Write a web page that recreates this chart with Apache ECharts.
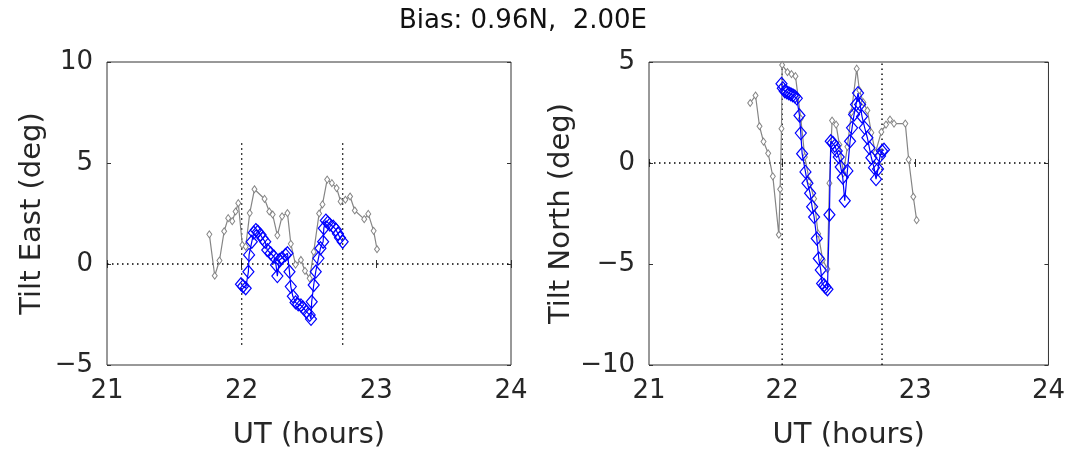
<!DOCTYPE html>
<html><head><meta charset="utf-8">
<script src="https://cdn.jsdelivr.net/npm/echarts@6/dist/echarts.min.js"></script>
<style>html,body{margin:0;padding:0;background:#fff}#c{width:1068px;height:455px}</style>
</head><body><div id="c"></div>
<script>
// ---- axes ----
const xMin = 21, xMax = 24, xStep = 1;
const eastMin = -5, eastMax = 10;
const northMin = -10, northMax = 5;
const yStep = 5;
const titleText = 'Bias: 0.96N,  2.00E';
const xName = 'UT (hours)';
const eastName = 'Tilt East (deg)';
const northName = 'Tilt North (deg)';

// ---- guide lines ----
const vLineX = [22, 22.75];
const vSpanEast = [-4, 6];
const vSpanNorth = [-10, 5];
const hLineY = 0;

// ---- Tilt East: raw (gray) ----
const tEastGray = [21.76,21.80,21.835,21.87,21.90,21.93,21.955,21.975,22.005,22.03,22.06,22.095,22.17,22.205,22.23,22.265,22.30,22.34,22.365,22.40,22.44,22.47,22.505,22.535,22.575,22.60,22.635,22.67,22.705,22.735,22.77,22.805,22.84,22.91,22.94,22.98,23.005];
const yEastGray = [1.47,-0.58,0.17,1.62,2.27,2.12,2.6,3.01,0.94,0.86,2.52,3.7,3.22,2.6,2.45,1.42,2.36,2.52,1.0,-0.03,0.2,-0.34,-0.71,0.6,2.5,2.95,4.18,4.0,3.76,3.1,3.18,3.34,2.65,2.22,2.48,1.64,0.73];
// ---- Tilt East: selected (blue) ----
const tEastBlue = [21.995,22.01,22.03,22.05,22.055,22.075,22.09,22.105,22.12,22.14,22.155,22.175,22.19,22.215,22.24,22.255,22.265,22.28,22.30,22.325,22.34,22.355,22.365,22.38,22.40,22.42,22.44,22.455,22.48,22.505,22.515,22.52,22.535,22.55,22.57,22.585,22.605,22.61,22.625,22.64,22.655,22.68,22.70,22.715,22.73,22.75];
const yEastBlue = [-1.0,-1.1,-1.2,-0.38,0.45,1.1,1.55,1.68,1.6,1.45,1.27,1.1,0.69,0.53,0.36,-0.05,-0.6,0.2,0.3,0.45,0.53,-0.38,-1.12,-1.6,-1.9,-2.0,-2.05,-2.15,-2.36,-2.52,-2.72,-1.87,-1.04,-0.38,0.28,0.78,1.1,1.77,2.15,2.05,1.95,1.85,1.7,1.5,1.3,1.1];

// ---- Tilt North: raw (gray) ----
const tNorthGray = [21.76,21.80,21.83,21.86,21.895,21.93,21.975,21.985,21.995,22.0,22.04,22.07,22.10,22.14,22.17,22.205,22.24,22.27,22.305,22.34,22.355,22.375,22.405,22.43,22.46,22.49,22.52,22.56,22.58,22.61,22.64,22.67,22.70,22.745,22.78,22.81,22.84,22.925,22.95,22.985,23.01];
const yNorthGray = [2.97,3.34,1.82,1.06,0.48,-0.66,-3.55,-1.3,1.7,4.85,4.5,4.4,4.3,2.2,0.3,-0.9,-1.77,-3.5,-4.8,-5.25,-1.0,2.1,1.9,0.9,-0.5,0.8,2.5,4.67,3.6,3.0,2.6,1.5,0.5,1.54,1.9,2.15,1.95,1.95,0.17,-1.67,-2.83];
// ---- Tilt North: selected (blue) ----
const tNorthBlue = [21.995,22.005,22.02,22.035,22.05,22.065,22.08,22.095,22.11,22.13,22.14,22.15,22.175,22.19,22.21,22.225,22.24,22.26,22.275,22.29,22.30,22.315,22.325,22.34,22.355,22.365,22.38,22.395,22.41,22.425,22.44,22.455,22.47,22.49,22.51,22.525,22.54,22.555,22.57,22.585,22.60,22.62,22.64,22.655,22.67,22.69,22.705,22.72,22.735,22.75,22.765];
const yNorthBlue = [3.92,3.7,3.55,3.5,3.45,3.4,3.35,3.3,3.2,2.35,1.48,0.46,-0.44,-1.0,-1.5,-2.17,-2.67,-3.74,-4.73,-5.3,-5.97,-6.05,-6.15,-6.25,-2.56,1.08,1.0,0.85,0.6,0.3,-0.2,-0.72,-1.87,-0.39,1.08,1.74,2.4,2.9,3.46,2.9,2.3,1.74,1.25,0.75,0.26,-0.23,-0.8,-0.3,0.35,0.59,0.66];

// ---- styling ----
const FONT = 'DejaVu Sans';
const TXT = '#262626';
const GRAY = '#858585';
const BLUE = '#0000ff';

function pairs(t, y) { return t.map((v, i) => [v, y[i]]); }
const minus = v => String(v).replace('-', '\u2212');

const grids = [
  {left: 107, top: 62, width: 404, height: 303},
  {left: 649, top: 62, width: 404, height: 303}
].map(g => Object.assign(g, {show: true, borderColor: '#333', borderWidth: 1, backgroundColor: '#fff'}));

const xAxes = [], yAxes = [];
[0, 1].forEach(i => {
  xAxes.push({
    type: 'value', gridIndex: i, min: xMin, max: xMax, interval: xStep, position: 'bottom',
    axisLine: {show: false}, splitLine: {show: false},
    axisTick: {inside: true, length: 4, lineStyle: {color: '#333'}},
    axisLabel: {fontFamily: FONT, fontSize: 26, color: TXT, margin: 13, formatter: minus},
    name: xName, nameLocation: 'middle', nameGap: 56,
    nameTextStyle: {fontFamily: FONT, fontSize: 29, color: TXT}
  });
  xAxes.push({
    type: 'value', gridIndex: i, min: xMin, max: xMax, interval: xStep, position: 'top',
    axisLine: {show: false}, splitLine: {show: false}, axisLabel: {show: false},
    axisTick: {inside: true, length: 4, lineStyle: {color: '#333'}}
  });
  const ymin = i === 0 ? eastMin : northMin, ymax = i === 0 ? eastMax : northMax;
  yAxes.push({
    type: 'value', gridIndex: i, min: ymin, max: ymax, interval: yStep, position: 'left',
    axisLine: {show: false}, splitLine: {show: false},
    axisTick: {inside: true, length: 4, lineStyle: {color: '#333'}},
    axisLabel: {fontFamily: FONT, fontSize: 26, color: TXT, margin: 14, formatter: minus},
    name: i === 0 ? eastName : northName, nameLocation: 'middle', nameGap: 60, nameRotate: 90,
    nameTextStyle: {fontFamily: FONT, fontSize: 29, color: TXT}
  });
  yAxes.push({
    type: 'value', gridIndex: i, min: ymin, max: ymax, interval: yStep, position: 'right',
    axisLine: {show: false}, splitLine: {show: false}, axisLabel: {show: false},
    axisTick: {inside: true, length: 4, lineStyle: {color: '#333'}}
  });
});

const series = [];
function guide(gi, data) {
  series.push({
    type: 'line', xAxisIndex: gi * 2, yAxisIndex: gi * 2, data: data, symbol: 'none', silent: true,
    lineStyle: {color: '#000', width: 1.4, type: [1.5, 3.5]}, z: 1, animation: false
  });
}
[[0, vSpanEast], [1, vSpanNorth]].forEach(([gi, span]) => {
  vLineX.forEach(x => guide(gi, [[x, span[0]], [x, span[1]]]));
  guide(gi, [[xMin, hLineY], [xMax, hLineY]]);
});
function dataSeries(gi, data, color, size, fill, bw, z) {
  series.push({
    type: 'line', xAxisIndex: gi * 2, yAxisIndex: gi * 2, data: data,
    symbol: 'diamond', symbolSize: size, showSymbol: true, z: z, animation: false,
    lineStyle: {color: color, width: 1.2},
    itemStyle: {color: fill, borderColor: color, borderWidth: bw}
  });
}
dataSeries(0, pairs(tEastGray, yEastGray), GRAY, [5, 7], '#fff', 1, 2);
dataSeries(0, pairs(tEastBlue, yEastBlue), BLUE, [11, 13], 'rgba(0,0,0,0)', 1.2, 3);
dataSeries(1, pairs(tNorthGray, yNorthGray), GRAY, [5, 7], '#fff', 1, 2);
dataSeries(1, pairs(tNorthBlue, yNorthBlue), BLUE, [11, 13], 'rgba(0,0,0,0)', 1.2, 3);

const chart = echarts.init(document.getElementById('c'), null, {renderer: 'canvas'});
chart.setOption({
  backgroundColor: '#fff',
  animation: false,
  title: {text: titleText, left: 518, textAlign: 'center', top: 3,
          textStyle: {fontFamily: FONT, fontSize: 26, fontWeight: 'normal', color: '#111'}},
  grid: grids, xAxis: xAxes, yAxis: yAxes, series: series
});
</script></body></html>
